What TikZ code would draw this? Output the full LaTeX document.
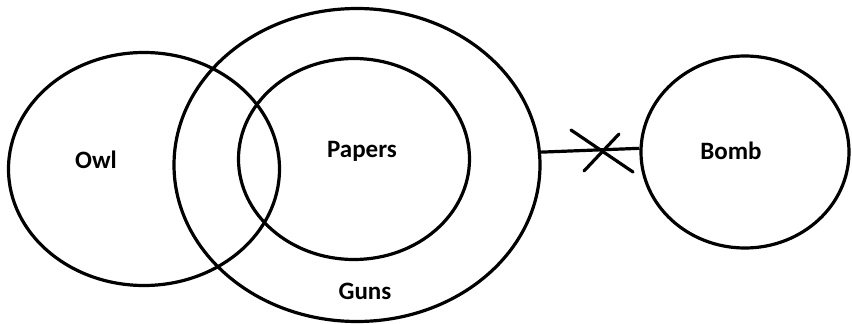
\documentclass[tikz,border=0pt]{standalone}
\usepackage{fontspec}
\setmainfont{Carlito}
\usetikzlibrary{shapes.geometric}
\begin{document}
\begin{tikzpicture}[x=1pt,y=-1pt,
  set/.style={draw,line width=3.2pt,ellipse,inner sep=0pt},
  lbl/.style={font=\bfseries\fontsize{25}{28}\selectfont,inner sep=0pt,anchor=base},
  link/.style={line width=3.2pt},
  cut/.style={line width=3.2pt,line cap=round}]
\useasboundingbox (0,0) rectangle (852,324);
\node[set,minimum width=271pt,minimum height=233pt] (owl) at (144,169) {};
\node[set,minimum width=366pt,minimum height=313pt] (guns) at (357,165) {};
\node[set,minimum width=231pt,minimum height=201pt] (papers) at (354,159) {};
\node[set,minimum width=208pt,minimum height=192pt] (bomb) at (745,152) {};
\node[lbl] (owlt) at (96,168) {Owl};
\node[lbl] (paperst) at (362,157) {Papers};
\node[lbl] (gunst) at (365,299) {Guns};
\node[lbl] (bombt) at (731,159) {Bomb};
\draw[link] (guns.4.4) -- (bomb.178.4);
\coordinate (c1a) at (571,130);
\coordinate (c1b) at (633,172);
\coordinate (c2a) at (584,171);
\coordinate (c2b) at (619,134);
\draw[cut] (c1a) -- (c1b);
\draw[cut] (c2a) -- (c2b);
\end{tikzpicture}
\end{document}
